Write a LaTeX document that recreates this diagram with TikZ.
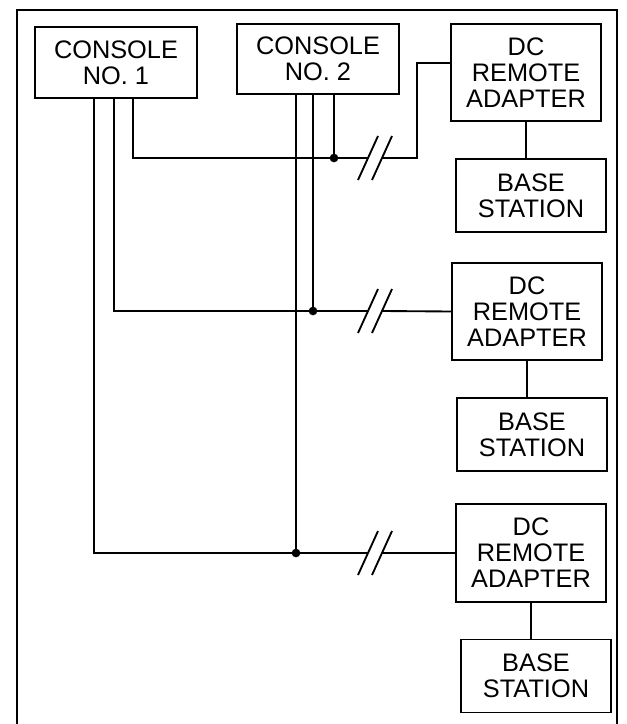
\documentclass[tikz,border=0pt]{standalone}
\usepackage{fontspec}
\setmainfont{Liberation Sans}
\usetikzlibrary{positioning}

\begin{document}
\begin{tikzpicture}[
  x=0.75pt,y=-0.75pt,
  node distance=27pt,
  box/.style={draw,line width=1.4pt,align=center,inner sep=2pt,font=\fontsize{19}{19.5}\selectfont},
  console/.style={box,minimum width=122pt,minimum height=53pt},
  adapter/.style={box,minimum width=112pt,minimum height=73pt},
  station/.style={box,minimum width=113pt,minimum height=54.75pt},
  wire/.style={line width=1.4pt},
  frame/.style={line width=1.8pt}
]
\useasboundingbox (0,0) rectangle (627,724);
\draw[frame] (17,724) |- (617,10) -- (617,724);

\node[console] (con1) at (116,62.5) {CONSOLE\\NO. 1};
\node[console] (con2) at (318,59) {CONSOLE\\NO. 2};
\node[adapter] (dc1) at (526,72.5) {DC\\REMOTE\\ADAPTER};
\node[adapter] (dc2) at (527,311.5) {DC\\REMOTE\\ADAPTER};
\node[adapter] (dc3) at (531,553) {DC\\REMOTE\\ADAPTER};
\node[station,below=of dc1,xshift=3.75pt] (bs1) {BASE\\STATION};
\node[station,below=of dc2,xshift=3.75pt] (bs2) {BASE\\STATION};
\node[station,below=of dc3,xshift=3.75pt] (bs3) {BASE\\STATION};

% junctions and line breaks
\coordinate (j1) at (334,158);
\coordinate (j2) at (313,311);
\coordinate (j3) at (296,553);
\coordinate (b1) at (375,158);
\coordinate (b2) at (375,311);
\coordinate (b3) at (375,553);
\coordinate (k1) at (417,63);

% console 1 feeds
\draw[wire] ([xshift=12.75pt]con1.south) |- (j1);
\draw[wire] ([xshift=-1.5pt]con1.south) |- (j2);
\draw[wire] ([xshift=-16.5pt]con1.south) |- (j3);
% console 2 feeds
\draw[wire] (j1 |- con2.south) -- (j1);
\draw[wire] (j2 |- con2.south) -- (j2);
\draw[wire] (j3 |- con2.south) -- (j3);

% lines to the adapters
\draw[wire] (j1) -- ([xshift=-5.25pt]b1);
\draw[wire] ([xshift=5.25pt]b1) -| (k1) -- (k1 -| dc1.west);
\draw[wire] (j2) -- ([xshift=-5.25pt]b2);
\draw[wire] ([xshift=5.25pt]b2) -- (dc2.west);
\draw[wire] (j3) -- ([xshift=-5.25pt]b3);
\draw[wire] ([xshift=5.25pt]b3) -- (dc3.west);

\foreach \j in {j1,j2,j3}
  \fill (\j) circle (3.25pt);
\foreach \b in {b1,b2,b3}{
  \draw[wire] ([shift={(-12.75pt,-16.5pt)}]\b) -- ([shift={(2.25pt,16.5pt)}]\b);
  \draw[wire] ([shift={(-2.25pt,-16.5pt)}]\b) -- ([shift={(12.75pt,16.5pt)}]\b);
}

% adapters to base stations
\draw[wire] (dc1.south) -- (dc1.south |- bs1.north);
\draw[wire] (dc2.south) -- (dc2.south |- bs2.north);
\draw[wire] (dc3.south) -- (dc3.south |- bs3.north);
\end{tikzpicture}
\end{document}
